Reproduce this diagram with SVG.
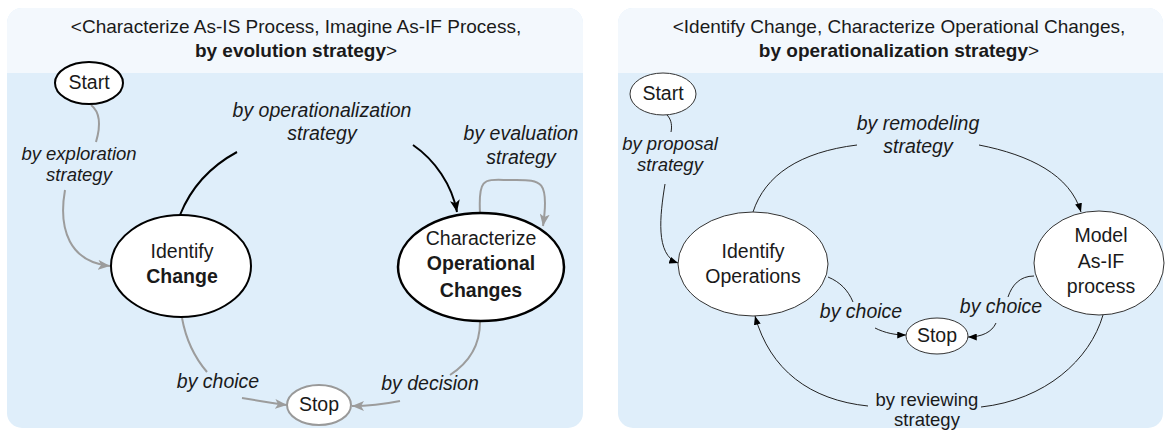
<svg xmlns="http://www.w3.org/2000/svg" width="1166" height="433" viewBox="0 0 1166 433">
<defs>
<style>
text{font-family:"Liberation Sans",Arial,sans-serif;fill:#1a1a1a;text-anchor:middle}
.hd{font-size:19px}
.b{font-weight:bold}
.nt{font-size:19.5px}
.lb{font-size:19.5px;font-style:italic}
.lbs{font-size:18.5px;font-style:italic}
.lbn{font-size:18.5px}
.body{fill:#dfeefa}
.head{fill:#f3f8fd}
.nodeL{fill:#fff;stroke:#000;stroke-width:2}
.nodeLB{fill:#fff;stroke:#000;stroke-width:2.5}
.stopL{fill:#fff;stroke:#999;stroke-width:2}
.nodeR{fill:#fff;stroke:#333;stroke-width:1}
.g{fill:none;stroke:#9c9c9c;stroke-width:2}
.k{fill:none;stroke:#000;stroke-width:2}
.t{fill:none;stroke:#222;stroke-width:1}
</style>
<marker id="ag" viewBox="0 0 12 10" refX="12" refY="5" markerWidth="12" markerHeight="10" markerUnits="userSpaceOnUse" orient="auto"><path d="M0,0 L12,5 L0,10 L3,5 z" fill="#9c9c9c"/></marker>
<marker id="ak" viewBox="0 0 12 10" refX="12" refY="5" markerWidth="12" markerHeight="10" markerUnits="userSpaceOnUse" orient="auto"><path d="M0,0 L12,5 L0,10 L3,5 z" fill="#000"/></marker>
<marker id="at" viewBox="0 0 10 8" refX="10" refY="4" markerWidth="9" markerHeight="7" markerUnits="userSpaceOnUse" orient="auto"><path d="M0,0 L10,4 L0,8 z" fill="#000"/></marker>
</defs>
<rect width="1166" height="433" fill="#fff"/>

<g id="panel-left">
<rect class="body" x="7" y="8" width="576" height="420" rx="15"/>
<path class="head" d="M7,73 V23 A15,15 0 0 1 22,8 H568 A15,15 0 0 1 583,23 V73 Z"/>
<text class="hd" x="296" y="33">&lt;Characterize As-IS Process, Imagine As-IF Process,</text>
<text class="hd" x="296" y="57"><tspan class="b">by evolution strategy</tspan>&gt;</text>
</g>

<g id="panel-right">
<rect class="body" x="618" y="8" width="545" height="420" rx="15"/>
<path class="head" d="M618,73 V23 A15,15 0 0 1 633,8 H1148 A15,15 0 0 1 1163,23 V73 Z"/>
<text class="hd" x="899" y="33">&lt;Identify Change, Characterize Operational Changes,</text>
<text class="hd" x="899" y="57"><tspan class="b">by operationalization strategy</tspan>&gt;</text>
</g>

<g id="connectors">
<path class="g" d="M91,105 C100,112 101,125 96,142"/>
<path class="g" d="M65,190 C58,230 70,262 110,266" marker-end="url(#ag)"/>
<text class="lbs" x="79" y="160">by exploration</text>
<text class="lbs" x="79" y="181">strategy</text>

<path class="k" d="M180,215 C192,185 213,165 237,152"/>
<path class="k" d="M413,145 C435,160 452,185 457,212" marker-end="url(#ak)"/>
<text class="lb" x="322" y="117">by operationalization</text>
<text class="lb" x="322" y="140">strategy</text>

<path class="g" d="M480,213 C478,175 485,180 512,180 C540,180 550,178 543,226" marker-end="url(#ag)"/>
<text class="lb" x="521" y="140">by evaluation</text>
<text class="lb" x="521" y="164">strategy</text>

<path class="g" d="M182,318 C186,340 195,358 207,372"/>
<path class="g" d="M242,398 C262,401 275,404 287,405" marker-end="url(#ag)"/>
<text class="lb" x="218" y="388">by choice</text>

<path class="g" d="M480,322 C480,345 470,362 450,375"/>
<path class="g" d="M400,401 C385,404 370,406 352,406" marker-end="url(#ag)"/>
<text class="lb" x="430" y="390">by decision</text>

<path class="t" d="M667,115 C672,120 672,127 671,132"/>
<path class="t" d="M665,184 C660,215 655,255 678,263" marker-end="url(#at)"/>
<text class="lbs" x="670" y="150">by proposal</text>
<text class="lbs" x="670" y="171">strategy</text>

<path class="t" d="M753,212 C765,175 800,152 857,145"/>
<path class="t" d="M979,145 C1030,155 1070,175 1081,212" marker-end="url(#at)"/>
<text class="lb" x="918" y="130">by remodeling</text>
<text class="lb" x="918" y="153">strategy</text>

<path class="t" d="M828,277 C840,282 848,290 853,302"/>
<path class="t" d="M875,328 C885,333 895,335 906,335" marker-end="url(#at)"/>
<text class="lb" x="861" y="318">by choice</text>

<path class="t" d="M1034,276 C1020,276 1012,285 1008,297"/>
<path class="t" d="M996,323 C992,332 982,337 968,337" marker-end="url(#at)"/>
<text class="lb" x="1001" y="313">by choice</text>

<path class="t" d="M1103,315 C1090,360 1045,400 981,407"/>
<path class="t" d="M868,406 C810,400 770,370 755,316" marker-end="url(#at)"/>
<text class="lbn" x="927" y="406">by reviewing</text>
<text class="lbn" x="927" y="426">strategy</text>
</g>

<g id="start-left">
<ellipse class="nodeL" cx="89" cy="83" rx="34" ry="21"/>
<text class="nt" x="89" y="89">Start</text>
</g>
<g id="identify-change">
<ellipse class="nodeL" cx="181" cy="266" rx="70" ry="51"/>
<text class="nt" x="182" y="258">Identify</text>
<text class="nt b" x="182" y="283">Change</text>
</g>
<g id="characterize-operational-changes">
<ellipse class="nodeLB" cx="481" cy="267" rx="83" ry="54"/>
<text class="nt" x="481" y="245">Characterize</text>
<text class="nt b" x="481" y="270">Operational</text>
<text class="nt b" x="481" y="297">Changes</text>
</g>
<g id="stop-left">
<ellipse class="stopL" cx="319" cy="405" rx="32" ry="20"/>
<text class="nt" x="319" y="411">Stop</text>
</g>

<g id="start-right">
<ellipse class="nodeR" cx="663" cy="94" rx="33" ry="21"/>
<text class="nt" x="663" y="100">Start</text>
</g>
<g id="identify-operations">
<ellipse class="nodeR" cx="753" cy="264" rx="75" ry="52"/>
<text class="nt" x="753" y="258">Identify</text>
<text class="nt" x="753" y="283">Operations</text>
</g>
<g id="model-as-if-process">
<ellipse class="nodeR" cx="1099" cy="263" rx="65" ry="52"/>
<text class="nt" x="1101" y="242">Model</text>
<text class="nt" x="1101" y="268">As-IF</text>
<text class="nt" x="1101" y="293">process</text>
</g>
<g id="stop-right">
<ellipse class="nodeR" cx="937" cy="336" rx="31" ry="18"/>
<text class="nt" x="937" y="342">Stop</text>
</g>
</svg>
